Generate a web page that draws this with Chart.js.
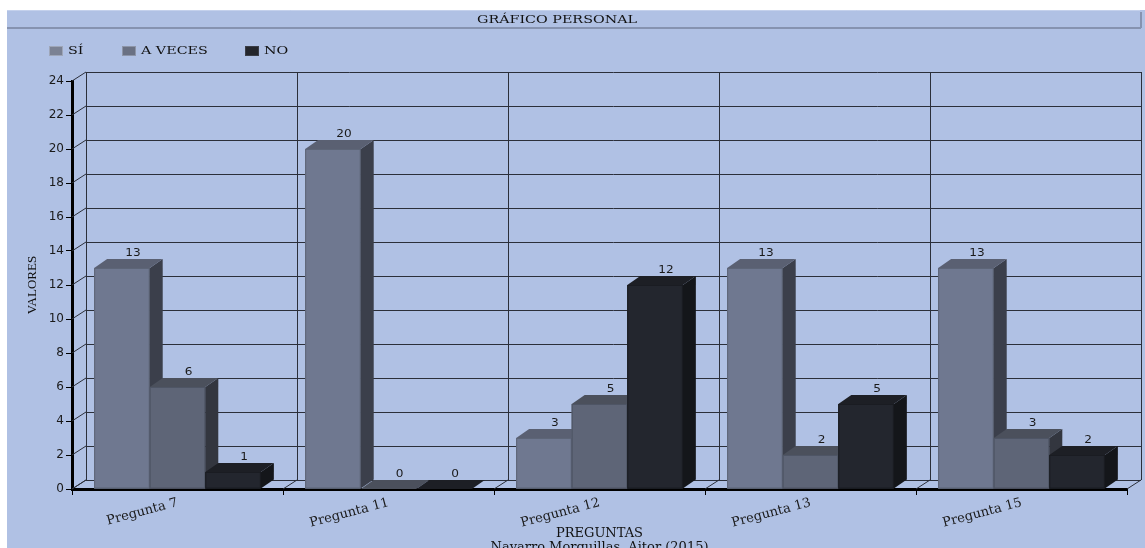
<!DOCTYPE html>
<html>
<head>
<meta charset="utf-8">
<script src="https://cdn.jsdelivr.net/npm/chart.js@4.4.1/dist/chart.umd.min.js"></script>
<style>
  html, body { margin: 0; padding: 0; background: #ffffff; }
  #wrap { width: 1145px; height: 548px; position: relative; }
  canvas { display: block; }
</style>
</head>
<body>
<div id="wrap"><canvas id="chart" width="1145" height="548"></canvas></div>
<script>
// ---- data ----
const categories = ['Pregunta 7', 'Pregunta 11', 'Pregunta 12', 'Pregunta 13', 'Pregunta 15'];
const siValues     = [13, 20, 3, 13, 13];
const aVecesValues = [6, 0, 5, 2, 3];
const noValues     = [1, 0, 12, 5, 2];
const seriesNames  = ['SÍ', 'A VECES', 'NO'];
const yMin = 0, yMax = 24, yStep = 2;
const chartTitle = 'GRÁFICO PERSONAL';
const yTitle = 'VALORES';
const xTitle = ['PREGUNTAS', 'Navarro Morguillas, Aitor (2015)'];

// ---- look ----
const PANEL = '#b0c1e4';
const SERIF = '"DejaVu Serif", "Liberation Serif", serif';
const TIMES = '"Liberation Serif", serif';
const SANS = '"DejaVu Sans", Verdana, sans-serif';
// front / side / top face colours per series
const FACES = [
  { front: '#6f7890', side: '#3b3f4b', top: '#5a6072', edge: '#5d6577', key: '#7b8294', keyEdge: '#9ea6b8' },
  { front: '#5e6577', side: '#33363f', top: '#4b505c', edge: '#4e5565', key: '#6a7183', keyEdge: '#8d95a8' },
  { front: '#23262e', side: '#14161a', top: '#1d1f25', edge: '#1a1c22', key: '#24262c', keyEdge: '#3a3d46' }
];
const WALL_DX = 14, WALL_DY = 9;   // depth of the back wall
const BAR_DX = 13, BAR_DY = 9;     // depth of each bar

function poly(ctx, pts, fill) {
  ctx.beginPath();
  ctx.moveTo(pts[0][0], pts[0][1]);
  for (let i = 1; i < pts.length; i++) ctx.lineTo(pts[i][0], pts[i][1]);
  ctx.closePath();
  ctx.fillStyle = fill;
  ctx.fill();
}

// horizontally widened text
function wideText(ctx, text, x, y, align, sx) {
  ctx.save();
  ctx.translate(x, y);
  ctx.scale(sx, 1);
  ctx.textAlign = align;
  ctx.textBaseline = 'middle';
  ctx.fillText(text, 0, 0);
  ctx.restore();
}

// panel background, title bar and legend
const panelPlugin = {
  id: 'panel',
  beforeDraw(chart) {
    const ctx = chart.ctx, w = chart.width, h = chart.height;
    ctx.save();
    ctx.fillStyle = '#ffffff';
    ctx.fillRect(0, 0, w, h);
    ctx.fillStyle = PANEL;
    ctx.fillRect(7, 10, w - 7, h - 10);

    // title bar with a soft raised edge
    ctx.strokeStyle = '#8693b0';
    ctx.lineWidth = 2;
    ctx.beginPath();
    ctx.moveTo(7, 28); ctx.lineTo(1141, 28);
    ctx.moveTo(1141, 12); ctx.lineTo(1141, 28);
    ctx.stroke();
    ctx.strokeStyle = '#c4d1ec';
    ctx.lineWidth = 1;
    ctx.beginPath();
    ctx.moveTo(7, 10.5); ctx.lineTo(1140, 10.5);
    ctx.stroke();

    ctx.fillStyle = '#111';
    ctx.font = '11px ' + SERIF;
    wideText(ctx, chartTitle, 557, 20, 'center', 1.3);

    // legend
    const legendX = [49, 122, 245];
    seriesNames.forEach((name, i) => {
      const x = legendX[i];
      ctx.fillStyle = FACES[i].key;
      ctx.fillRect(x, 46, 14, 10);
      ctx.strokeStyle = FACES[i].keyEdge;
      ctx.lineWidth = 1;
      ctx.strokeRect(x + 0.5, 46.5, 13, 9);
      ctx.fillStyle = '#111';
      ctx.font = '11px ' + SERIF;
      wideText(ctx, name, x + 19, 51, 'left', 1.3);
    });
    ctx.restore();
  }
};

// back wall grid, floor and the 3D bars
const wallPlugin = {
  id: 'wall',
  beforeDatasetsDraw(chart) {
    const ctx = chart.ctx;
    const { left, right } = chart.chartArea;
    const ys = chart.scales.y;
    const n = categories.length;
    ctx.save();
    ctx.strokeStyle = '#2b2f3a';
    ctx.lineWidth = 1;
    ctx.beginPath();
    for (let v = yMin; v <= yMax; v += yStep) {
      const py = Math.round(ys.getPixelForValue(v));
      ctx.moveTo(left + WALL_DX, py - WALL_DY + 0.5);
      ctx.lineTo(right + WALL_DX, py - WALL_DY + 0.5);
      ctx.moveTo(left, py);
      ctx.lineTo(left + WALL_DX, py - WALL_DY);
    }
    const topY = Math.round(ys.getPixelForValue(yMax));
    const botY = Math.round(ys.getPixelForValue(yMin));
    for (let i = 0; i <= n; i++) {
      const bx = Math.round(left + i * (right - left) / n);
      ctx.moveTo(bx + WALL_DX + 0.5, topY - WALL_DY);
      ctx.lineTo(bx + WALL_DX + 0.5, botY - WALL_DY);
      ctx.moveTo(bx, botY);
      ctx.lineTo(bx + WALL_DX, botY - WALL_DY);
    }
    ctx.stroke();
    ctx.restore();
  },
  afterDatasetsDraw(chart) {
    const ctx = chart.ctx;
    ctx.save();
    // bars painted left to right so nearer faces cover the side faces behind them
    chart.data.datasets.forEach((ds, di) => {
      const meta = chart.getDatasetMeta(di);
      const f = FACES[di];
      meta.data.forEach(el => {
        const l = el.x - el.width / 2, r = el.x + el.width / 2;
        const t = el.y, b = el.base;
        if (b - t > 0) {
          ctx.fillStyle = f.front;
          ctx.fillRect(l, t, r - l, b - t);
          ctx.strokeStyle = f.edge;
          ctx.lineWidth = 1;
          ctx.strokeRect(l + 0.5, t + 0.5, r - l - 1, b - t - 1);
          poly(ctx, [[r, t], [r + BAR_DX, t - BAR_DY], [r + BAR_DX, b - BAR_DY], [r, b]], f.side);
        }
        poly(ctx, [[l, t], [l + BAR_DX, t - BAR_DY], [r + BAR_DX, t - BAR_DY], [r, t]], f.top);
      });
    });
    // value labels
    ctx.fillStyle = '#1a1a1a';
    ctx.font = '11px ' + SANS;
    chart.data.datasets.forEach((ds, di) => {
      const meta = chart.getDatasetMeta(di);
      meta.data.forEach((el, i) => {
        wideText(ctx, String(ds.data[i]), el.x + 11, el.y - 15, 'center', 1.1);
      });
    });
    ctx.restore();
  }
};

const datasets = [siValues, aVecesValues, noValues].map((vals, i) => ({
  label: seriesNames[i],
  data: vals,
  backgroundColor: FACES[i].front,
  borderWidth: 0,
  categoryPercentage: 0.79,
  barPercentage: 1.0
}));

new Chart(document.getElementById('chart'), {
  type: 'bar',
  data: { labels: categories, datasets },
  plugins: [panelPlugin, wallPlugin],
  options: {
    responsive: false,
    animation: false,
    devicePixelRatio: 1,
    layout: { padding: { left: 7, right: 18, top: 81, bottom: 0 } },
    plugins: {
      legend: { display: false },
      title: { display: false },
      tooltip: { enabled: false }
    },
    scales: {
      x: {
        offset: true,
        afterFit: s => { s.height = 59; },
        grid: { offset: true, drawOnChartArea: false, drawTicks: true, tickLength: 6, color: '#000', lineWidth: 1 },
        border: { display: true, color: '#000', width: 3 },
        ticks: {
          color: '#1a1a1a',
          font: { family: SERIF, size: 13 },
          minRotation: 15,
          maxRotation: 15,
          padding: 0,
          autoSkip: false
        },
        title: {
          display: true,
          text: xTitle,
          color: '#111',
          font: { family: SERIF, size: 13, lineHeight: 1.05 },
          padding: { top: 0, bottom: -6 }
        }
      },
      y: {
        min: yMin,
        max: yMax,
        afterFit: s => { s.width = 65; },
        grid: { drawOnChartArea: false, drawTicks: true, tickLength: 6, color: '#000', lineWidth: 1 },
        border: { display: true, color: '#000', width: 3 },
        ticks: {
          stepSize: yStep,
          color: '#1a1a1a',
          font: { family: SANS, size: 12 },
          padding: 2
        },
        title: {
          display: true,
          text: yTitle,
          color: '#111',
          font: { family: TIMES, size: 13, lineHeight: 1.2 },
          padding: { top: 18, bottom: 0 }
        }
      }
    }
  }
});
</script>
</body>
</html>
